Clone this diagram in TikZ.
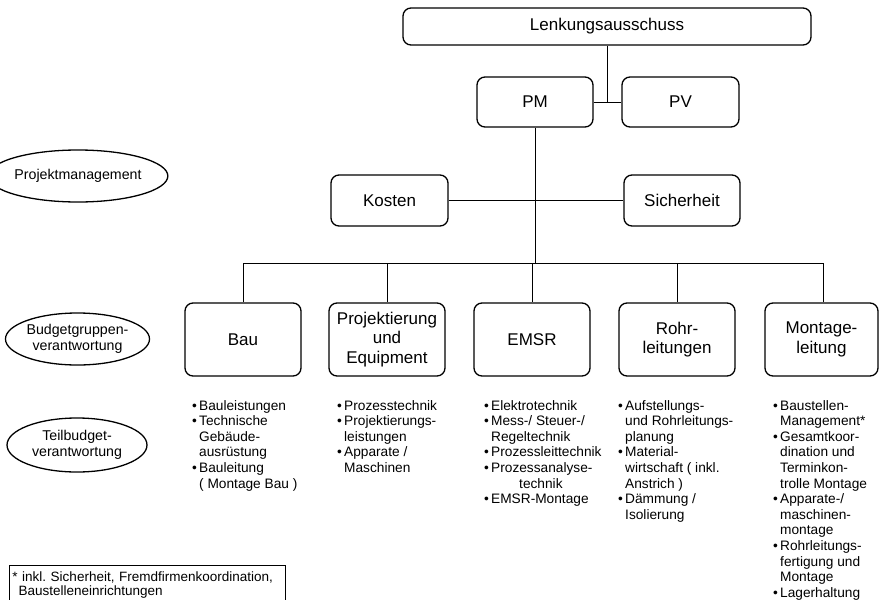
\documentclass[tikz,border=0pt]{standalone}
\usepackage{fontspec}
\setmainfont{Liberation Sans}
\usetikzlibrary{shapes.geometric}
\newcommand\bl{\makebox[7pt][l]{•}}
\newcommand\ind{\hspace*{7pt}}
\frenchspacing
\begin{document}
\begin{tikzpicture}[x=1pt,y=-1pt,
  orgbox/.style={draw=black, line width=1.3pt, rounded corners=8pt, inner sep=0pt,
    align=center, font=\fontsize{17}{19.5}\selectfont},
  level/.style={draw=black, line width=1.3pt, ellipse, inner sep=0pt,
    align=center, font=\fontsize{14.2}{16.5}\selectfont},
  link/.style={line width=1pt},
  tasks/.style={anchor=north west, inner sep=0pt, align=left,
    font=\fontsize{13.7}{15.6}\selectfont}]
\useasboundingbox (0,0) rectangle (879,600);

% management level
\node[orgbox, minimum width=408pt, minimum height=37pt] (lenk) at (607,26.5) {Lenkungsausschuss};
\node[orgbox, minimum width=116pt, minimum height=50pt] (pm) at (535,102) {PM};
\node[orgbox, minimum width=117pt, minimum height=50pt] (pv) at (680.5,102) {PV};
\node[orgbox, minimum width=117pt, minimum height=51pt] (kosten) at (389.5,200.5) {Kosten};
\node[orgbox, minimum width=116pt, minimum height=51pt] (sicher) at (682,200.5) {Sicherheit};

% budget groups
\node[orgbox, minimum width=116pt, minimum height=73pt] (bau) at (243,339.5) {Bau};
\node[orgbox, minimum width=116pt, minimum height=73pt] (proj) at (387,339.5) {Projektierung\\und\\Equipment};
\node[orgbox, minimum width=116pt, minimum height=73pt] (emsr) at (532,339.5) {EMSR};
\node[orgbox, minimum width=116pt, minimum height=73pt] (rohr) at (677,339.5) {Rohr-\\leitungen};
\node[orgbox, minimum width=113pt, minimum height=73pt] (mont) at (821.5,339.5) {Montage-\\leitung};

% level labels
\node[level, minimum width=140pt, minimum height=52pt] (lv1) at (78,176) {Projektmanagement};
\node[level, minimum width=139pt, minimum height=52pt] (lv2) at (77.5,339) {Budgetgruppen-\\verantwortung};
\node[level, minimum width=140pt, minimum height=54pt] (lv3) at (77,445) {Teilbudget-\\verantwortung};

% connectors
\coordinate (barR) at (823,263);
\draw[link] (lenk.south) -- (lenk.south |- pm.east);
\draw[link] (pm.east) -- (pv.west);
\draw[link] (pm.south) -- (pm.south |- barR);
\draw[link] (kosten.east) -- (sicher.west);
\draw[link] (bau.north |- barR) -- (barR);
\foreach \b in {bau,proj,emsr,rohr}
  \draw[link] (\b.north |- barR) -- (\b.north);
\draw[link] (barR) -- (barR |- mont.north);

% partial budget tasks
\node[tasks] (tbau) at (192,400) {\bl Bauleistungen\\ \bl Technische\\ \ind Gebäude-\\ \ind ausrüstung\\ \bl Bauleitung\\ \ind ( Montage Bau )};
\node[tasks] (tproj) at (337,400) {\bl Prozesstechnik\\ \bl Projektierungs-\\ \ind leistungen\\ \bl Apparate /\\ \ind Maschinen};
\node[tasks] (temsr) at (484,400) {\bl Elektrotechnik\\ \bl Mess-/ Steuer-/\\ \ind Regeltechnik\\ \bl Prozessleittechnik\\ \bl Prozessanalyse-\\ \ind\hspace*{28pt}technik\\ \bl EMSR-Montage};
\node[tasks] (trohr) at (618,400) {\bl Aufstellungs-\\ \ind und Rohrleitungs-\\ \ind planung\\ \bl Material-\\ \ind wirtschaft ( inkl.\\ \ind Anstrich )\\ \bl Dämmung /\\ \ind Isolierung};
\node[tasks] (tmont) at (773,400) {\bl Baustellen-\\ \ind Management*\\ \bl Gesamtkoor-\\ \ind dination und\\ \ind Terminkon-\\ \ind trolle Montage\\ \bl Apparate-/\\ \ind maschinen-\\ \ind montage\\ \bl Rohrleitungs-\\ \ind fertigung und\\ \ind Montage\\ \bl Lagerhaltung};

% footnote
\node[draw=black, line width=1pt, anchor=north west, inner xsep=3pt, inner ysep=3pt,
  minimum width=276pt, minimum height=40pt, align=left, text width=270pt,
  font=\fontsize{13.5}{14}\selectfont] (note) at (9,565)
  {* inkl. Sicherheit, Fremdfirmenkoordination,\\ \hspace*{6pt}Baustelleneinrichtungen};
\end{tikzpicture}
\end{document}
